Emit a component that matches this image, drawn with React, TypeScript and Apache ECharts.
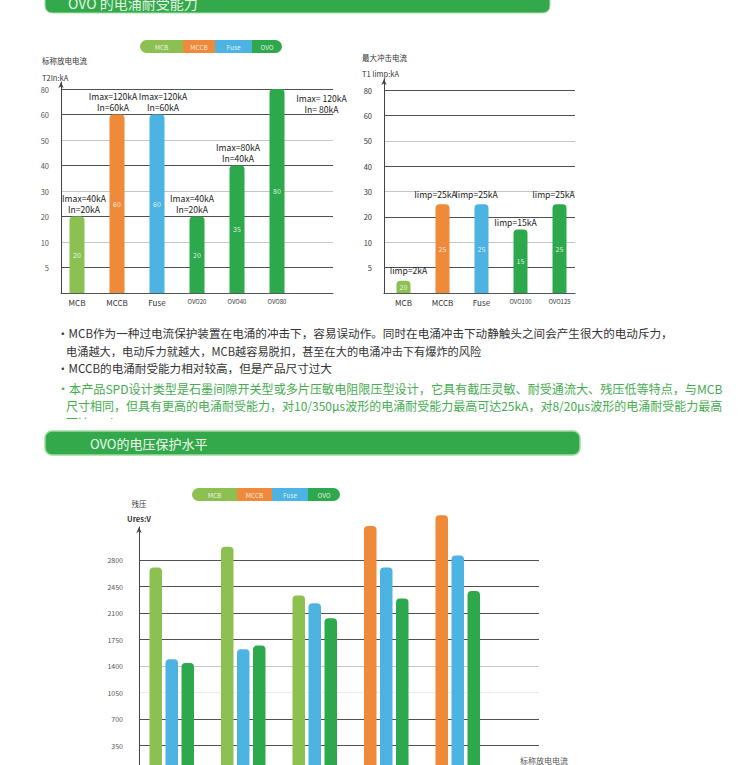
import React, { useEffect, useRef } from "react";
import * as echarts from "echarts";

// ---------- data ----------
const legendNames = ["MCB", "MCCB", "Fuse", "OVO"];

// Chart 1: 标称放电电流 T2 In (kA)
const t2Ticks = [0, 5, 10, 20, 30, 40, 50, 60, 80];
const t2Categories = ["MCB", "MCCB", "Fuse", "OVO20", "OVO40", "OVO80"];
const t2Types = ["MCB", "MCCB", "Fuse", "OVO", "OVO", "OVO"];
const t2Values = [20, 60, 60, 20, 40, 80];
const t2InnerLabels = ["20", "60", "60", "20", "35", "80"];
const t2Notes = [
  "Imax=40kA\nIn=20kA",
  "Imax=120kA\nIn=60kA",
  "Imax=120kA\nIn=60kA",
  "Imax=40kA\nIn=20kA",
  "Imax=80kA\nIn=40kA",
  "Imax= 120kA\nIn= 80kA",
];

// Chart 2: 最大冲击电流 T1 Iimp (kA)
const t1Ticks = [0, 5, 10, 20, 30, 40, 50, 60, 80];
const t1Categories = ["MCB", "MCCB", "Fuse", "OVO100", "OVO125"];
const t1Types = ["MCB", "MCCB", "Fuse", "OVO", "OVO"];
const t1Values = [2.4, 25, 25, 15, 25];
const t1InnerLabels = ["20", "25", "25", "15", "25"];
const t1Notes = ["Iimp=2kA", "Iimp=25kA", "Iimp=25kA", "Iimp=15kA", "Iimp=25kA"];

// Chart 3: 残压 Ures (V)
const upGroups = ["G1", "G2", "G3", "G4", "G5"];
const upMCB = [2700, 2975, 2330, null, null];
const upMCCB = [null, null, null, 3250, 3390];
const upFuse = [1490, 1620, 2230, 2700, 2860];
const upOVO = [1440, 1670, 2030, 2290, 2390];
const upInterval = 350;
const upTopTick = 2800;

const noteLines = [
  "•MCB作为一种过电流保护装置在电涌的冲击下，容易误动作。同时在电涌冲击下动静触头之间会产生很大的电动斥力，",
  "电涌越大，电动斥力就越大，MCB越容易脱扣，甚至在大的电涌冲击下有爆炸的风险",
  "•MCCB的电涌耐受能力相对较高，但是产品尺寸过大",
  "•本产品SPD设计类型是石墨间隙开关型或多片压敏电阻限压型设计，它具有截压灵敏、耐受通流大、残压低等特点，与MCB",
  "尺寸相同，但具有更高的电涌耐受能力，对10/350μs波形的电涌耐受能力最高可达25kA，对8/20μs波形的电涌耐受能力最高",
  "可达125kA",
];

// ---------- style ----------
const COLORS: Record<string, string> = {
  MCB: "#8cc152",
  MCCB: "#ee8a3a",
  Fuse: "#4cb3e2",
  OVO: "#2ea84c",
};
const GREEN_BANNER = "#34a94b";
const DARK = "#505050";
const LIGHT = "#c6c6c6";
const VLIGHT = "#ececec";
const NONE = "rgba(0,0,0,0)";
const FONT = '"Noto Sans CJK SC", "Liberation Sans", sans-serif';

function toPos(v: number, ticks: number[]) {
  for (let i = 1; i < ticks.length; i++) {
    if (v <= ticks[i]) return i - 1 + (v - ticks[i - 1]) / (ticks[i] - ticks[i - 1]);
  }
  return ticks.length - 1;
}

function legendPill(bounds: number[], y: number, h: number) {
  const els: any[] = [];
  const r = h / 2;
  legendNames.forEach((name, i) => {
    const x0 = bounds[i];
    const w = bounds[i + 1] - bounds[i];
    const rad = i === 0 ? [r, 0, 0, r] : i === legendNames.length - 1 ? [0, r, r, 0] : 0;
    els.push({
      type: "rect",
      shape: { x: x0, y, width: w, height: h, r: rad },
      style: { fill: COLORS[name] },
    });
    els.push({
      type: "text",
      x: x0 + w / 2,
      y: y + h / 2,
      style: {
        text: name,
        fill: "rgba(255,255,255,0.85)",
        fontSize: 6.5,
        fontFamily: FONT,
        textAlign: "center",
        textVerticalAlign: "middle",
        align: "center",
        verticalAlign: "middle",
      },
    });
  });
  return els;
}

function txt(x: number, y: number, text: string, fontSize: number, fill: string, extra: any = {}) {
  return {
    type: "text",
    x,
    y,
    style: {
      text,
      fill,
      fontSize,
      fontFamily: FONT,
      textAlign: extra.align || "left",
      align: extra.align || "left",
      textVerticalAlign: "middle",
      verticalAlign: "middle",
      fontWeight: extra.fontWeight || "normal",
    },
  };
}

function buildOption() {
  const maxL = (8 * 211) / 204;
  const maxR = (8 * 214) / 203;
  const maxB = (upTopTick * 245) / 212;
  const maxBB = (upTopTick * 265) / 212;

  const leftNoteOffsets = [7, -4, 6, -5, 1, 0];
  const rightNoteOffsets = [5, -7, -5, -5, -6];
  const rightNoteDist = [7, 6, 6, 3, 6];

  const yLabelFmt = (ticks: number[]) => (v: number) =>
    Number.isInteger(v) && v > 0 && v < ticks.length ? String(ticks[v]) : "";

  const bgX = (gi: number) => ({
    gridIndex: gi,
    type: "value",
    min: 0,
    max: 1,
    axisLine: { show: true, onZero: false, lineStyle: { color: "#555", width: 1.2 } },
    axisTick: { show: false },
    axisLabel: { show: false },
    splitLine: { show: false },
  });

  const catX = (gi: number, cats: string[]) => ({
    gridIndex: gi,
    type: "category",
    data: cats.map((c) => ({
      value: c,
      textStyle: { fontSize: c.startsWith("OVO") ? 6 : 8 },
    })),
    axisLine: { show: false },
    axisTick: { show: false },
    axisLabel: { margin: 5, color: "#333", fontSize: 8, fontFamily: FONT },
  });

  const bgYTop = (gi: number, max: number, ticks: number[], color: string, fs: number) => ({
    gridIndex: gi,
    type: "value",
    min: 0,
    max,
    interval: 1,
    axisLine: {
      show: true,
      lineStyle: { color: "#444", width: 1 },
      symbol: ["none", "arrow"],
      symbolSize: [4, 6],
    },
    axisTick: { show: false },
    axisLabel: { margin: 12, fontSize: fs, color, fontFamily: FONT, formatter: yLabelFmt(ticks) },
    splitLine: {
      show: true,
      lineStyle: { color: [NONE, DARK, LIGHT, DARK, LIGHT, DARK, LIGHT, DARK, DARK, NONE, NONE], width: 1.2 },
    },
  });

  const hiddenY = (gi: number, max: number) => ({ gridIndex: gi, type: "value", min: 0, max, show: false });

  const innerLabel = (arr: string[], fs: number) => ({
    show: true,
    position: "inside",
    formatter: (p: any) => arr[p.dataIndex],
    color: "rgba(255,255,255,0.85)",
    fontSize: fs,
    fontFamily: FONT,
  });

  const leftBars = t2Values.map((v, i) => ({
    value: toPos(v, t2Ticks),
    itemStyle: { color: COLORS[t2Types[i]] },
  }));
  const leftNotes = t2Values.map((v, i) => {
    const item: any = { value: toPos(v, t2Ticks) };
    if (i === t2Values.length - 1) {
      item.label = { position: [52, 3], align: "center", verticalAlign: "top" };
    } else {
      item.label = { offset: [leftNoteOffsets[i], 0] };
    }
    return item;
  });

  const rightBars = t1Values.map((v, i) => ({
    value: toPos(v, t1Ticks),
    itemStyle: { color: COLORS[t1Types[i]] },
  }));
  const rightNotes = t1Values.map((v, i) => ({
    value: toPos(v, t1Ticks),
    label: { offset: [rightNoteOffsets[i], 0], distance: rightNoteDist[i] },
  }));

  const graphics: any[] = [];
  // banner 1
  graphics.push({
    type: "rect",
    shape: { x: 45, y: -14, width: 505, height: 27, r: 7 },
    style: { fill: GREEN_BANNER, stroke: "#a9dfa9", lineWidth: 1 },
  });
  graphics.push(txt(68, 3, "OVO 的电涌耐受能力", 14, "#e2f3e2"));
  // legends
  graphics.push(...legendPill([140, 183, 215, 252, 282], 40, 13));
  // chart titles
  graphics.push(txt(42, 60, "标称放电电流", 7.5, "#333"));
  graphics.push(txt(42, 77, "T2In:kA", 7.5, "#333"));
  graphics.push(txt(362, 57, "最大冲击电流", 7.5, "#333"));
  graphics.push(txt(362, 73, "T1 Iimp:kA", 7.5, "#333"));
  // note text
  graphics.push(txt(57, 333, noteLines[0], 11.6, "#333"));
  graphics.push(txt(66, 351, noteLines[1], 11.2, "#333"));
  graphics.push(txt(57, 368, noteLines[2], 11.6, "#333"));
  graphics.push(txt(57, 388, noteLines[3], 12.1, "#45ad4f"));
  graphics.push(txt(66, 405, noteLines[4], 12, "#45ad4f"));
  graphics.push(txt(66, 422, noteLines[5], 12, "#45ad4f"));
  graphics.push({ type: "rect", shape: { x: 40, y: 419, width: 700, height: 12 }, style: { fill: "#fff" } });
  // banner 2
  graphics.push({
    type: "rect",
    shape: { x: 45, y: 431, width: 535, height: 24, r: 7 },
    style: { fill: GREEN_BANNER, stroke: "#9fdc9f", lineWidth: 1.5 },
  });
  graphics.push(txt(90, 443, "OVO的电压保护水平", 13, "#f0fbf0"));
  graphics.push(...legendPill([192, 237, 272, 308, 340], 488, 13));
  graphics.push(txt(139, 503, "残压", 7.5, "#333", { align: "center" }));
  graphics.push(txt(139, 518, "Ures:V", 7.5, "#333", { align: "center", fontWeight: "bold" }));
  graphics.push(txt(520, 760, "标称放电电流", 8, "#555"));

  return {
    animation: false,
    backgroundColor: "#fff",
    textStyle: { fontFamily: FONT },
    grid: [
      { left: 61, top: 82, width: 272, height: 211 },
      { left: 57, top: 82, width: 240, height: 211 },
      { left: 384, top: 79, width: 191, height: 214 },
      { left: 384, top: 79, width: 195, height: 214 },
      { left: 139, top: 527, width: 400, height: 245 },
      { left: 136, top: 507, width: 357.5, height: 265 },
    ],
    xAxis: [
      bgX(0),
      catX(1, t2Categories),
      bgX(2),
      catX(3, t1Categories),
      bgX(4),
      {
        gridIndex: 5,
        type: "category",
        data: upGroups,
        axisLine: { show: false },
        axisTick: { show: false },
        axisLabel: { show: false },
      },
    ],
    yAxis: [
      bgYTop(0, maxL, t2Ticks, "#555", 7.5),
      hiddenY(1, maxL),
      bgYTop(2, maxR, t1Ticks, "#333", 7.5),
      hiddenY(3, maxR),
      {
        gridIndex: 4,
        type: "value",
        min: 0,
        max: maxB,
        interval: upInterval,
        axisLine: {
          show: true,
          lineStyle: { color: "#444", width: 1 },
          symbol: ["none", "arrow"],
          symbolSize: [4, 6],
        },
        axisTick: { show: false },
        axisLabel: {
          margin: 16,
          fontSize: 7,
          color: "#555",
          fontFamily: FONT,
          formatter: (v: number) => (v > 0 && v <= upTopTick ? String(v) : ""),
        },
        splitLine: {
          show: true,
          lineStyle: {
            color: [NONE, DARK, DARK, VLIGHT, LIGHT, DARK, DARK, DARK, DARK, NONE, NONE],
            width: 1.2,
          },
        },
      },
      hiddenY(5, maxBB),
    ],
    series: [
      {
        type: "bar",
        xAxisIndex: 1,
        yAxisIndex: 1,
        barWidth: 15,
        barGap: "-100%",
        data: leftBars,
        itemStyle: { borderRadius: [4, 4, 0, 0] },
        label: innerLabel(t2InnerLabels, 7),
        silent: true,
      },
      {
        type: "bar",
        xAxisIndex: 1,
        yAxisIndex: 1,
        barWidth: 15,
        barGap: "-100%",
        data: leftNotes,
        itemStyle: { color: NONE },
        label: {
          show: true,
          position: "top",
          distance: 2,
          formatter: (p: any) => t2Notes[p.dataIndex],
          fontSize: 8.6,
          lineHeight: 11,
          color: "#222",
          fontFamily: FONT,
        },
        silent: true,
      },
      {
        type: "bar",
        xAxisIndex: 3,
        yAxisIndex: 3,
        barWidth: 14,
        barGap: "-100%",
        data: rightBars,
        itemStyle: { borderRadius: [4, 4, 0, 0] },
        label: innerLabel(t1InnerLabels, 7),
        silent: true,
      },
      {
        type: "bar",
        xAxisIndex: 3,
        yAxisIndex: 3,
        barWidth: 14,
        barGap: "-100%",
        data: rightNotes,
        itemStyle: { color: NONE },
        label: {
          show: true,
          position: "top",
          formatter: (p: any) => t1Notes[p.dataIndex],
          fontSize: 8.6,
          color: "#222",
          fontFamily: FONT,
        },
        silent: true,
      },
      {
        name: "MCB",
        type: "bar",
        xAxisIndex: 5,
        yAxisIndex: 5,
        stack: "first",
        barWidth: 12.5,
        barGap: "28%",
        data: upMCB,
        itemStyle: { color: COLORS.MCB, borderRadius: [4, 4, 0, 0] },
      },
      {
        name: "MCCB",
        type: "bar",
        xAxisIndex: 5,
        yAxisIndex: 5,
        stack: "first",
        barWidth: 12.5,
        barGap: "28%",
        data: upMCCB,
        itemStyle: { color: COLORS.MCCB, borderRadius: [4, 4, 0, 0] },
      },
      {
        name: "Fuse",
        type: "bar",
        xAxisIndex: 5,
        yAxisIndex: 5,
        barWidth: 12.5,
        barGap: "28%",
        data: upFuse,
        itemStyle: { color: COLORS.Fuse, borderRadius: [4, 4, 0, 0] },
      },
      {
        name: "OVO",
        type: "bar",
        xAxisIndex: 5,
        yAxisIndex: 5,
        barWidth: 12.5,
        barGap: "28%",
        data: upOVO,
        itemStyle: { color: COLORS.OVO, borderRadius: [4, 4, 0, 0] },
      },
    ],
    graphic: { elements: graphics },
  };
}

export default function App() {
  const ref = useRef<HTMLDivElement>(null);
  useEffect(() => {
    if (!ref.current) return;
    const chart = echarts.init(ref.current, null, { renderer: "svg" });
    chart.setOption(buildOption() as any);
    return () => chart.dispose();
  }, []);
  return (
    <div
      style={{
        position: "fixed",
        left: 0,
        top: 0,
        width: 750,
        height: 765,
        overflow: "hidden",
        background: "#fff",
      }}
    >
      <div ref={ref} style={{ width: 750, height: 800 }} />
    </div>
  );
}
